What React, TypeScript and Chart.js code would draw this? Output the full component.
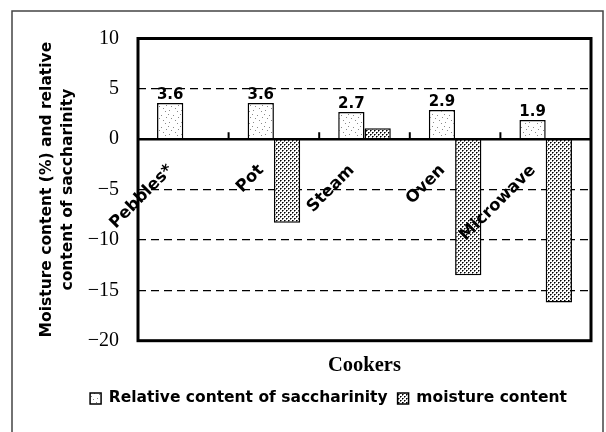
import React, { useEffect, useRef } from 'react';
import { Chart, registerables } from 'chart.js';

Chart.register(...registerables);

const categories = ['Pebbles*', 'Pot', 'Steam', 'Oven', 'Microwave'];
const saccharinity = [3.6, 3.6, 2.7, 2.9, 1.9];
const moisture = [0, -8.3, 1.1, -13.5, -16.2];
const yTicks = [10, 5, 0, -5, -10, -15, -20];
const seriesNames = ['Relative content of saccharinity', 'moisture content'];
const yTitle = ['Moisture content (%) and relative', 'content of saccharinity'];
const xTitle = 'Cookers';

function makeSpeckle(): CanvasPattern | string {
  const c = document.createElement('canvas');
  c.width = 12;
  c.height = 12;
  const g = c.getContext('2d');
  if (!g) return '#fff';
  g.fillStyle = '#fff';
  g.fillRect(0, 0, 12, 12);
  g.fillStyle = '#8a8a8a';
  const pts = [[1, 2], [5, 7], [9, 3], [3, 10], [10, 9], [7, 0], [0, 6]];
  pts.forEach(([px, py]) => g.fillRect(px, py, 1, 1));
  return g.createPattern(c, 'repeat') || '#fff';
}

function makeDots(): CanvasPattern | string {
  const c = document.createElement('canvas');
  c.width = 4;
  c.height = 4;
  const g = c.getContext('2d');
  if (!g) return '#999';
  g.fillStyle = '#fff';
  g.fillRect(0, 0, 4, 4);
  g.fillStyle = '#6a6a6a';
  [[1, 0], [0, 1], [3, 2], [2, 3]].forEach(([px, py]) => g.fillRect(px, py, 1, 1));
  g.fillStyle = '#000';
  g.fillRect(0, 0, 1, 1);
  g.fillRect(2, 2, 1, 1);
  return g.createPattern(c, 'repeat') || '#999';
}

const overlay = {
  id: 'overlay',
  afterDatasetsDraw(chart: any) {
    const { ctx, chartArea: a, scales } = chart;
    const x = scales.x;
    const y = scales.y;
    const y0 = y.getPixelForValue(0);
    ctx.save();
    ctx.strokeStyle = '#000';
    ctx.lineWidth = 2.5;
    ctx.beginPath();
    ctx.moveTo(a.left, y0);
    ctx.lineTo(a.right, y0);
    ctx.stroke();
    ctx.lineWidth = 2;
    for (let i = 0; i < categories.length - 1; i++) {
      const bx = (x.getPixelForValue(i) + x.getPixelForValue(i + 1)) / 2;
      ctx.beginPath();
      ctx.moveTo(bx, y0);
      ctx.lineTo(bx, y0 - 7);
      ctx.stroke();
    }
    ctx.lineWidth = 3;
    ctx.strokeRect(a.left, a.top, a.right - a.left, a.bottom - a.top);

    const meta = chart.getDatasetMeta(0);
    ctx.font = 'bold 15px "DejaVu Sans"';
    ctx.fillStyle = '#000';
    ctx.textAlign = 'center';
    ctx.textBaseline = 'alphabetic';
    meta.data.forEach((el: any, i: number) => {
      ctx.fillText(saccharinity[i].toFixed(1), el.x, el.y - 4);
    });

    ctx.font = 'bold 16.5px "DejaVu Sans"';
    ctx.textAlign = 'right';
    ctx.textBaseline = 'middle';
    categories.forEach((c, i) => {
      const cx = x.getPixelForValue(i);
      ctx.save();
      ctx.translate(cx - 12.5, y0 + 28.5);
      ctx.rotate(-Math.PI / 4);
      ctx.fillText(c, 0, 0);
      ctx.restore();
    });
    ctx.restore();
  },
  afterDraw(chart: any) {
    const { ctx } = chart;
    ctx.save();
    ctx.strokeStyle = '#444';
    ctx.lineWidth = 1.5;
    ctx.beginPath();
    ctx.moveTo(12, 432);
    ctx.lineTo(12, 11);
    ctx.lineTo(603, 11);
    ctx.lineTo(603, 432);
    ctx.stroke();
    ctx.restore();
  },
};

export default function App() {
  const ref = useRef<HTMLCanvasElement>(null);
  useEffect(() => {
    if (!ref.current) return;
    const speckle = makeSpeckle();
    const dots = makeDots();
    const chart = new Chart(ref.current, {
      type: 'bar',
      data: {
        labels: categories,
        datasets: [
          {
            label: seriesNames[0],
            data: saccharinity,
            backgroundColor: speckle as any,
            borderColor: '#000',
            borderWidth: 1.5,
            categoryPercentage: 0.58,
            barPercentage: 1,
          },
          {
            label: seriesNames[1],
            data: moisture,
            backgroundColor: dots as any,
            borderColor: '#000',
            borderWidth: 1.5,
            categoryPercentage: 0.58,
            barPercentage: 1,
          },
        ],
      },
      options: {
        responsive: false,
        animation: false,
        devicePixelRatio: 1,
        layout: { padding: { left: 66, right: 15, top: 38.5, bottom: 15.8 } },
        plugins: {
          tooltip: { enabled: false },
          legend: {
            position: 'bottom',
            labels: {
              boxWidth: 11,
              boxHeight: 11,
              padding: 10,
              color: '#000',
              font: { family: 'DejaVu Sans', size: 15.5, weight: 'bold' },
            },
          },
        },
        scales: {
          x: {
            grid: { display: false },
            border: { display: false },
            ticks: { display: false },
            title: {
              display: true,
              text: xTitle,
              color: '#000',
              font: { family: 'Liberation Serif', size: 20.5, weight: 'bold', lineHeight: 1.2 },
              padding: { top: 0, bottom: 3 },
            },
            afterFit: (s: any) => {
              s.height = 40;
            },
          },
          y: {
            min: Math.min(...yTicks),
            max: Math.max(...yTicks),
            ticks: {
              stepSize: 5,
              color: '#000',
              padding: 19,
              font: { family: 'Liberation Serif', size: 20 },
              callback: (v: any) => (Number(v) < 0 ? '\u2212' + Math.abs(Number(v)) : String(v)),
            },
            grid: {
              drawTicks: false,
              lineWidth: 1.3,
              color: (c: any) =>
                c.tick && [Math.max(...yTicks), 0, Math.min(...yTicks)].includes(c.tick.value)
                  ? 'rgba(0,0,0,0)'
                  : '#000',
            },
            border: { display: false, dash: [8, 5] },
            title: {
              display: true,
              text: yTitle,
              color: '#000',
              font: { family: 'DejaVu Sans', size: 15.5, weight: 'bold', lineHeight: '21px' },
              padding: { top: -30, bottom: 0 },
            },
            afterFit: (s: any) => {
              s.width = 72;
            },
          },
        },
      },
      plugins: [overlay],
    } as any);
    return () => chart.destroy();
  }, []);
  return (
    <div style={{ position: 'fixed', left: 0, top: 0, width: 606, height: 432, background: '#fff' }}>
      <canvas ref={ref} width={606} height={432} style={{ display: 'block' }} />
    </div>
  );
}
